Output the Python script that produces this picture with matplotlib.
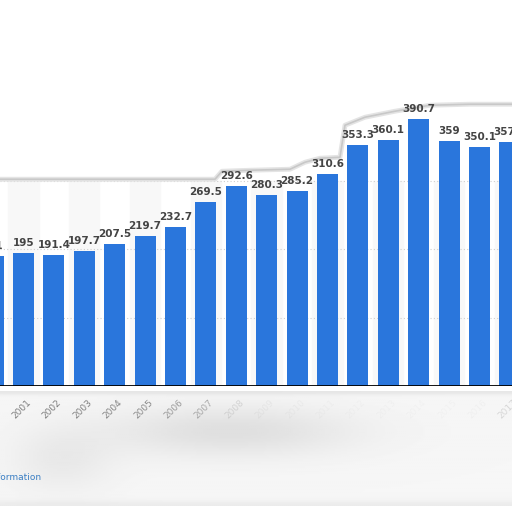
import matplotlib.pyplot as plt
import numpy as np

# values
years = list(range(2000, 2018))
values = [191, 195, 191.4, 197.7, 207.5, 219.7, 232.7, 269.5, 292.6, 280.3,
          285.2, 310.6, 353.3, 360.1, 390.7, 359, 350.1, 357.2]
labels = ['191', '195', '191.4', '197.7', '207.5', '219.7', '232.7', '269.5', '292.6',
          '280.3', '285.2', '310.6', '353.3', '360.1', '390.7', '359', '350.1', '357.2']
tick_years = list(range(2001, 2018))
tick_alpha = [0.75, 0.75, 0.72, 0.7, 0.65, 0.55, 0.45, 0.18, 0.07, 0.05, 0.04, 0.03,
              0.03, 0.03, 0.03, 0.04, 0.2]

W = 512
px = lambda v: v / W

fig = plt.figure(figsize=(5.12, 5.12), dpi=100)
fig.patch.set_facecolor('white')

# blurred grey region under the axis
bg = fig.add_axes([0, px(512 - 506), 1, px(506 - 391)])
gx, gy = np.meshgrid(np.linspace(0, 1, 256), np.linspace(0, 1, 80))
img = 0.965 - 0.09 * np.exp(-((gx - 0.45) ** 2 / 0.06 + (gy - 0.35) ** 2 / 0.05))
img -= 0.05 * np.exp(-((gx - 0.12) ** 2 / 0.01 + (gy - 0.6) ** 2 / 0.08))
img -= 0.04 * np.exp(-(gy - 1.0) ** 2 / 0.002)
img -= 0.06 * np.exp(-(gy - 0.0) ** 2 / 0.0008)
bg.imshow(img, cmap='gray', vmin=0, vmax=1, aspect='auto', extent=[0, 1, 0, 1])
bg.axis('off')

ax = fig.add_axes([0, px(512 - 386), 1, px(386)])
ax.set_xlim(2000.227, 2017.07)
ax.set_ylim(0, 565)

for y in years:
    if y % 2 == 1:
        ax.axvspan(y - 0.5, y + 0.5, ymin=0, ymax=300 / 565, color='#f8f8f8', zorder=0)

for g in [100, 200, 300]:
    ax.axhline(g, color='#cfcfcf', lw=0.8, ls=(0, (1, 2)), zorder=1)

ax.bar(years, values, width=0.69, color='#2a76dc', zorder=2)
for x, v, t in zip(years, values, labels):
    ax.text(x, v + 7, t, ha='center', va='bottom', fontsize=7.5,
            fontweight='bold', color='#444444', zorder=3)

# soft grey outline around the upper plot area
ox = [0, 215, 222, 250, 290, 305, 320, 340, 345, 365, 395, 430, 470, 512]
oy = [179, 179, 171, 170, 169, 162, 158, 157, 125, 117, 111, 105, 104, 104]
lx = [2000.227 + a / 30.4 for a in ox]
ly = [(385.7 - b) / 0.683 for b in oy]
ax.plot(lx, ly, color='#e4e4e4', lw=3.5, zorder=1, solid_capstyle='round')
ax.plot(lx, ly, color='#c8c8c8', lw=1.2, zorder=1, solid_capstyle='round')

ax.axhline(0, color='black', lw=1.3, zorder=4)
for s in ax.spines.values():
    s.set_visible(False)
ax.set_yticks([])
ax.set_xticks(tick_years)
ax.set_xticklabels([])
ax.tick_params(length=0)
for y, a in zip(tick_years, tick_alpha):
    ax.text(y + 0.1, -18, str(y), rotation=45, ha='right', va='top',
            rotation_mode='anchor', fontsize=6.5, color='#555555', alpha=a,
            clip_on=False, zorder=5)

fig.text(px(41), px(512 - 478), 'Additional Information', ha='right', va='center',
         fontsize=6.5, color='#3b7fc4')

fig.savefig('out.png', dpi=100)
